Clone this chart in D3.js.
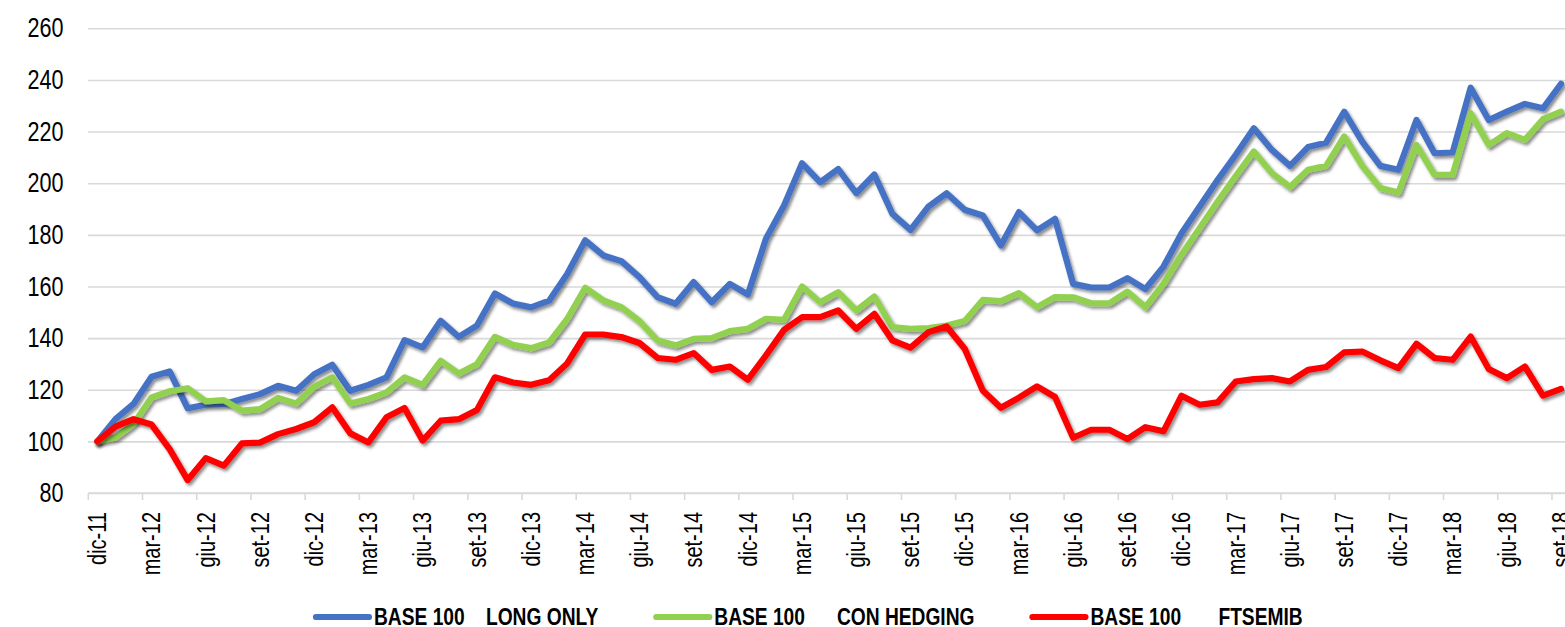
<!DOCTYPE html>
<html>
<head>
<meta charset="utf-8">
<script src="https://cdnjs.cloudflare.com/ajax/libs/d3/7.8.5/d3.min.js"></script>
<style>
  body { margin: 0; background: #fff; }
  svg { display: block; font-family: "Liberation Sans", Arial, sans-serif; }
</style>
</head>
<body>
<script>
var W = 1565, H = 627;
var narrow = 0.8; // the original uses a condensed face

// months dic-11 .. set-18
var monthNames = ["gen","feb","mar","apr","mag","giu","lug","ago","set","ott","nov","dic"];
var months = d3.timeMonth.range(new Date(2011, 11, 1), new Date(2018, 9, 1));
var categories = months.map(function(d) {
  return monthNames[d.getMonth()] + "-" + String(d.getFullYear()).slice(2);
});

var longOnly = [100,108.6,114.5,125.0,127.1,112.8,114.2,114.4,116.4,118.3,121.5,119.6,126.0,129.7,119.6,121.9,
  124.8,139.2,136.4,146.7,140.5,144.8,157.3,153.4,151.9,154.5,164.8,177.9,172.0,169.8,163.6,155.9,153.3,161.7,
  153.9,161.0,156.9,178.5,191.4,207.7,200.4,205.5,196.1,203.4,188.1,181.9,191.0,196.1,189.7,187.5,175.9,188.8,
  181.7,186.2,161.0,159.6,159.6,163.2,159.0,167.7,180.6,191.0,201.3,211.0,221.3,212.9,206.7,214.0,215.7,227.7,
  216.1,206.7,205.2,224.5,211.6,211.9,237.0,224.5,227.7,230.7,229.0,238.5];

var conHedging = [100,101.5,106.7,117.0,119.4,120.6,115.5,116.0,111.9,112.5,116.8,114.7,121.2,124.8,114.7,116.4,
  119.0,124.8,121.9,131.2,126.3,129.9,140.5,137.4,136.1,138.3,147.4,159.5,154.6,152.0,146.6,139.1,137.2,139.7,
  140.0,142.7,143.6,147.5,147.1,160.0,153.9,157.8,150.7,156.1,144.3,143.6,143.9,144.9,146.6,154.8,154.3,157.4,
  152.0,155.9,155.8,153.5,153.5,158.0,152.0,161.0,172.3,182.6,192.9,202.8,212.3,203.9,198.5,205.2,206.7,218.1,
  206.7,198.1,196.4,214.8,203.2,203.2,227.1,214.8,219.4,216.8,224.8,227.7];

var ftseMib = [100,105.7,108.6,106.5,97.0,85.0,93.5,90.6,99.2,99.5,102.8,104.8,107.4,113.2,103.1,99.6,
  109.3,112.9,100.3,108.0,108.6,112.1,124.8,122.8,121.9,123.7,130.2,141.4,141.4,140.4,138.1,132.3,131.6,134.2,
  127.7,129.0,123.9,133.3,143.2,148.1,148.1,150.7,143.6,149.4,139.1,136.3,142.3,144.5,135.9,119.7,113.0,116.9,
  121.3,117.2,101.4,104.5,104.5,100.9,105.5,103.9,117.7,114.2,115.1,123.2,124.1,124.5,123.2,127.7,128.8,134.5,
  134.8,131.4,128.4,137.8,132.3,131.6,140.6,128.0,124.5,129.0,117.7,120.3];

var yTicks = [80,100,120,140,160,180,200,220,240,260];
var seriesNames = ["BASE 100    LONG ONLY", "BASE 100      CON HEDGING", "BASE 100       FTSEMIB"];
var seriesColors = ["#4472C4", "#92D050", "#FF0000"];
var seriesData = [longOnly, conHedging, ftseMib];

var svg = d3.select("body").append("svg")
  .attr("width", W)
  .attr("height", H);

var defs = svg.append("defs");
defs.append("filter")
    .attr("id", "shadow")
    .attr("x", "-5%").attr("y", "-20%")
    .attr("width", "110%").attr("height", "140%")
  .append("feDropShadow")
    .attr("dx", 2).attr("dy", 2.5)
    .attr("stdDeviation", 1.6)
    .attr("flood-color", "#000")
    .attr("flood-opacity", 0.45);

var x = d3.scaleBand()
  .domain(categories)
  .range([88.3, 88.3 + categories.length * 18.07]);

var y = d3.scaleLinear()
  .domain([80, 260])
  .range([493, 28.3]);

// gridlines + y labels
var yAxis = svg.append("g")
  .attr("transform", "translate(88,0)")
  .call(d3.axisLeft(y).tickValues(yTicks).tickSize(-(W - 88)).tickPadding(0));
yAxis.select(".domain").remove();
yAxis.selectAll(".tick line")
  .attr("stroke", "#d9d9d9")
  .attr("stroke-width", 1.6);
yAxis.selectAll(".tick text")
  .attr("fill", "#000")
  .style("font-size", "27px")
  .style("font-family", "inherit")
  .attr("x", 0)
  .attr("transform", "translate(-24.5,0) scale(" + narrow + ",1)");

// x axis: labels every 3 months at category centre, ticks at boundaries
var shown = categories.filter(function(d, i) { return i % 3 === 0; });

var xAxis = svg.append("g")
  .attr("transform", "translate(0,493)")
  .call(d3.axisBottom(x).tickValues(shown).tickSize(0).tickPadding(0));
xAxis.select(".domain")
  .attr("stroke", "#d9d9d9")
  .attr("stroke-width", 1.6)
  .attr("d", "M88.3,0H" + W);
xAxis.selectAll(".tick text")
  .attr("fill", "#000")
  .style("font-size", "25px")
  .style("font-family", "inherit")
  .attr("text-anchor", "end")
  .attr("transform", "translate(0,19) rotate(-90) scale(" + narrow + ",1)")
  .attr("x", 0)
  .attr("y", 0)
  .attr("dy", "0.35em");

xAxis.selectAll(".xtick")
  .data(shown)
  .enter()
  .append("line")
    .attr("class", "xtick")
    .attr("x1", function(d) { return x(d); })
    .attr("x2", function(d) { return x(d); })
    .attr("y1", 0)
    .attr("y2", 7)
    .attr("stroke", "#d9d9d9")
    .attr("stroke-width", 1.6);

// lines
var line = d3.line()
  .x(function(d, i) { return x(categories[i]) + x.bandwidth() / 2; })
  .y(function(d) { return y(d); });

svg.append("g")
  .selectAll("path")
  .data(seriesData)
  .enter()
  .append("path")
    .attr("d", line)
    .attr("fill", "none")
    .attr("stroke", function(d, i) { return seriesColors[i]; })
    .attr("stroke-width", 6.2)
    .attr("stroke-linejoin", "round")
    .attr("stroke-linecap", "round")
    .attr("filter", "url(#shadow)");

// legend
var legend = svg.append("g").attr("transform", "translate(0,617)");
var cx = 316;
seriesNames.forEach(function(name, i) {
  legend.append("line")
    .attr("x1", cx).attr("x2", cx + 53)
    .attr("y1", 0).attr("y2", 0)
    .attr("stroke", seriesColors[i])
    .attr("stroke-width", 6.2)
    .attr("stroke-linecap", "round");
  var t = legend.append("text")
    .attr("transform", "translate(" + (cx + 58) + ",8) scale(" + narrow + ",1)")
    .style("white-space", "pre")
    .style("font-size", "24px")
    .style("font-weight", "bold")
    .attr("fill", "#000")
    .text(name);
  cx = cx + 58 + t.node().getComputedTextLength() * narrow + 58;
});
</script>
</body>
</html>
